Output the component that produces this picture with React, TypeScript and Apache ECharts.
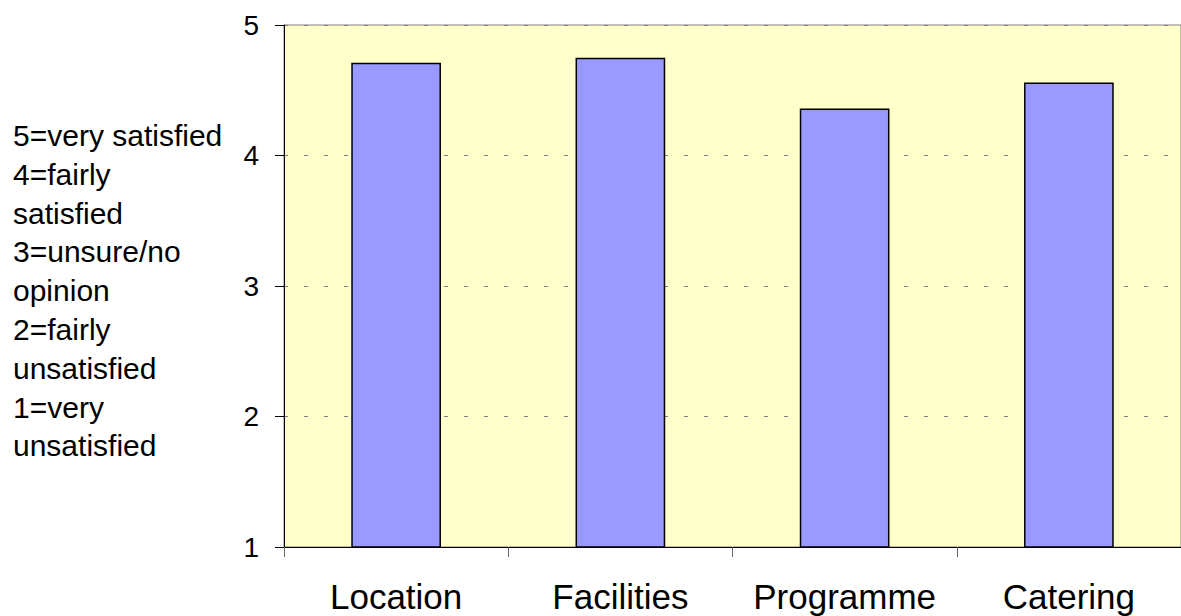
import React, { useEffect, useRef } from "react";
import * as echarts from "echarts";

const categories = ["Location", "Facilities", "Programme", "Catering"];
const scores = [4.71, 4.75, 4.36, 4.56];
const yTicks = [1, 2, 3, 4, 5];
const scaleNote = [
  "5=very satisfied",
  "4=fairly",
  "satisfied",
  "3=unsure/no",
  "opinion",
  "2=fairly",
  "unsatisfied",
  "1=very",
  "unsatisfied",
];

const FONT = "'Liberation Sans', Arial, sans-serif";

export default function App() {
  const ref = useRef<HTMLDivElement>(null);
  useEffect(() => {
    if (!ref.current) return;
    const chart = echarts.init(ref.current, null, { renderer: "svg" });
    chart.setOption({
      animation: false,
      backgroundColor: "#ffffff",
      grid: {
        left: 284,
        top: 25,
        right: 0,
        bottom: 69,
        show: true,
        backgroundColor: "#FFFFCC",
        borderColor: "#808080",
        borderWidth: 1,
      },
      xAxis: {
        type: "category",
        data: categories,
        axisLine: { show: true, lineStyle: { color: "#000", width: 1 } },
        axisTick: { show: true, interval: 0, length: 10, lineStyle: { color: "#666" } },
        axisLabel: {
          interval: 0,
          color: "#000",
          fontSize: 35,
          fontFamily: FONT,
          margin: 32,
        },
      },
      yAxis: {
        type: "value",
        min: yTicks[0],
        max: yTicks[yTicks.length - 1],
        interval: 1,
        axisLine: { show: true, lineStyle: { color: "#000", width: 1 } },
        axisTick: { show: true, length: 9, lineStyle: { color: "#000" } },
        axisLabel: {
          color: "#000",
          fontSize: 28,
          fontFamily: FONT,
          margin: 25,
        },
        splitLine: {
          show: true,
          lineStyle: { color: "#808080", type: [4, 16], width: 1 },
        },
      },
      series: [
        {
          type: "bar",
          data: scores,
          barCategoryGap: "60%",
          itemStyle: {
            color: "#9999FF",
            borderColor: "#000",
            borderWidth: 1.5,
          },
        },
      ],
      graphic: [
        {
          type: "text",
          left: 13,
          top: 116,
          style: {
            text: scaleNote.join("\n"),
            fontSize: 30,
            fontFamily: FONT,
            lineHeight: 38.8,
            fill: "#000",
          },
        },
      ],
    });
    return () => chart.dispose();
  }, []);
  return (
    <div
      ref={ref}
      style={{ position: "absolute", left: 0, top: 0, width: 1181, height: 616 }}
    />
  );
}
